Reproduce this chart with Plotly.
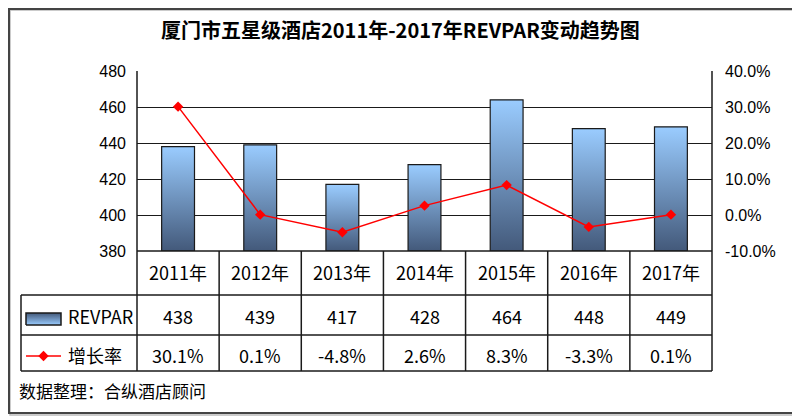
import plotly.graph_objects as go

# data
years = ["2011年", "2012年", "2013年", "2014年", "2015年", "2016年", "2017年"]
revpar = [438, 439, 417, 428, 464, 448, 449]
growth = [30.1, 0.1, -4.8, 2.6, 8.3, -3.3, 0.1]
left_ticks = [380, 400, 420, 440, 460, 480]
right_ticks = [-10, 0, 10, 20, 30, 40]

# the page body has an 8px margin, so the figure is 792x412 and
# every screen position below is shifted by that offset
OFF = 8
W, H = 800 - OFF, 420 - OFF
PX_L, PX_R, PX_T, PX_B = 137, 712, 71, 251   # plot area on screen
BAR_W = 0.40
BAR_TOP = "#9ACCFF"
BAR_BOT = "#43597A"
CJK = "Noto Sans CJK SC"
TICK_FONT = dict(family="Liberation Sans, Arial", size=16, color="#000")


def px(x):
    return (x - OFF) / W


def py(y):
    return 1 - (y - OFF) / H


fig = go.Figure()

# bars with vertical gradient, one trace per bar
for i, v in enumerate(revpar):
    x0, x1 = i - BAR_W / 2, i + BAR_W / 2
    fig.add_trace(go.Scatter(
        x=[x0, x1, x1, x0, x0],
        y=[380, 380, v, v, 380],
        mode="lines",
        fill="toself",
        fillgradient=dict(type="vertical",
                          colorscale=[[0, BAR_BOT], [1, BAR_TOP]]),
        line=dict(color="#1a1a1a", width=1.2),
        hoverinfo="skip",
        showlegend=False,
    ))

# growth rate line
fig.add_trace(go.Scatter(
    x=list(range(len(years))),
    y=growth,
    yaxis="y2",
    mode="lines+markers",
    line=dict(color="#FF0000", width=1.5),
    marker=dict(symbol="diamond", size=8, color="#FF0000"),
    showlegend=False,
))

# legend symbols inside the table (helper axis in screen pixels)
sx0, sx1, sy0, sy1 = 26, 61, 313, 325
fig.add_trace(go.Scatter(
    x=[sx0, sx1, sx1, sx0, sx0], y=[sy1, sy1, sy0, sy0, sy1],
    xaxis="x3", yaxis="y3", mode="lines", fill="toself",
    fillgradient=dict(type="vertical",
                      colorscale=[[0, BAR_TOP], [1, BAR_BOT]]),
    line=dict(color="#1a1a1a", width=1.5),
    hoverinfo="skip", showlegend=False,
))
fig.add_trace(go.Scatter(
    x=[26, 61], y=[356, 356], xaxis="x3", yaxis="y3", mode="lines",
    line=dict(color="#FF0000", width=1.5), hoverinfo="skip", showlegend=False,
))
fig.add_trace(go.Scatter(
    x=[43.5], y=[356], xaxis="x3", yaxis="y3", mode="markers",
    marker=dict(symbol="diamond", size=8, color="#FF0000"),
    hoverinfo="skip", showlegend=False,
))

# table lines
line_style = dict(color="#1a1a1a", width=1.5)


def hline(x0, x1, y, xref="paper"):
    return dict(type="line", xref=xref, yref="paper", x0=x0, x1=x1,
                y0=py(y), y1=py(y), line=line_style)


def vline(x, y0, y1, xref="paper"):
    return dict(type="line", xref=xref, yref="paper", x0=x, x1=x,
                y0=py(y1), y1=py(y0), line=line_style)


shapes = [
    # frame with a soft shadow
    dict(type="rect", xref="paper", yref="paper", x0=px(10), x1=px(795),
         y0=py(415), y1=py(10), line=dict(color="#bbbbbb", width=1.5)),
    dict(type="rect", xref="paper", yref="paper", x0=px(9), x1=px(793),
         y0=py(413), y1=py(9), line=dict(color="#444444", width=2)),
    vline(px(PX_L), PX_T, 371),
    vline(px(PX_R), PX_T, 371),
    hline(px(PX_L), px(PX_R), PX_B),
    hline(px(21), px(PX_R), 295),
    hline(px(21), px(PX_R), 335),
    hline(px(21), px(PX_R), 371),
    vline(px(21), 295, 371),
]
for k in range(1, len(years)):
    shapes.append(vline(k - 0.5, PX_B, 371, xref="x"))


def label(text, x, y, size=18, xref="paper", xanchor="center", bold=False):
    return dict(text=f"<b>{text}</b>" if bold else text, xref=xref,
                yref="paper", x=x, y=py(y), xanchor=xanchor,
                yanchor="middle", showarrow=False,
                font=dict(family=CJK, size=size, color="#000"))


annotations = [
    label("厦门市五星级酒店2011年-2017年REVPAR变动趋势图", px(400), 30,
          size=20, bold=True),
    label("数据整理：合纵酒店顾问", px(17), 390, size=17, xanchor="left"),
    label("REVPAR", px(66), 316, xanchor="left"),
    label("增长率", px(66), 355, xanchor="left"),
]
for i, (yr, v, g) in enumerate(zip(years, revpar, growth)):
    annotations.append(label(yr, i, 272, xref="x"))
    annotations.append(label(str(v), i, 316, xref="x"))
    annotations.append(label(f"{g:.1f}%", i, 355, xref="x"))

fig.update_layout(
    width=W, height=H,
    autosize=False,
    margin=dict(l=0, r=0, t=0, b=0, pad=0),
    paper_bgcolor="white",
    plot_bgcolor="white",
    xaxis=dict(domain=[px(PX_L), px(PX_R)], range=[-0.5, len(years) - 0.5],
               visible=False, fixedrange=True, automargin=False),
    yaxis=dict(domain=[py(PX_B), py(PX_T)], range=[380, 480],
               tickvals=left_ticks, showgrid=True, gridcolor="#1a1a1a",
               gridwidth=1.2, zeroline=False, showline=False, ticks="",
               automargin=False, ticklabelstandoff=10, tickfont=TICK_FONT),
    yaxis2=dict(overlaying="y", side="right", range=[-10, 40],
                tickvals=right_ticks,
                ticktext=[f"{t:.1f}%" for t in right_ticks],
                showgrid=False, zeroline=False, showline=False, ticks="",
                automargin=False, ticklabelstandoff=12, tickfont=TICK_FONT),
    xaxis3=dict(domain=[px(21), px(PX_L)], range=[21, PX_L], visible=False,
                anchor="y3", automargin=False),
    yaxis3=dict(domain=[py(371), py(295)], range=[371, 295], visible=False,
                anchor="x3", automargin=False),
    shapes=shapes,
    annotations=annotations,
)

fig.write_html("out.html")
